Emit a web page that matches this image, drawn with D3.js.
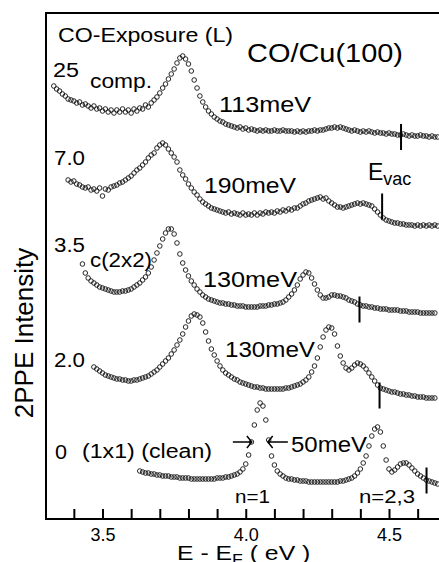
<!DOCTYPE html>
<html><head><meta charset="utf-8">
<script src="https://cdn.jsdelivr.net/npm/d3@7"></script>
<style>
body{margin:0;background:#fff}
svg{display:block}
text{font-family:"Liberation Sans",Arial,Helvetica,sans-serif;fill:#000}
</style>
</head><body>
<svg id="chart" width="439" height="562"></svg>
<script>
// ---- data ----
const exposures = ["25", "7.0", "3.5", "2.0", "0"];
const startEnergy = [3.33, 3.38, 3.43, 3.47, 3.63];   // eV, first sample of each scan
const energyStep = 0.01;                               // eV per sample
const stackOffset = [382, 294, 206, 121, 34];          // vertical offset (arb. units)

const int25 = [51,48,46,43,41,38,37,36,34,35, 32,33,31,29,31,28,29,26,28,25,
  27,24,27,25,28,25,27,24,28,26, 29,28,32,30,34,37,40,44,49,53,
  58,63,68,74,79,81,78,73,66,57, 49,41,35,30,26,23,20,18,16,15,
  13,12,11,10,9,10,8,9,7,8, 7,6,7,6,7,6,6,7,6,6,
  7,6,6,6,5,6,5,6,5,6, 6,7,6,7,7,8,9,9,10,9,
  10,9,8,7,6,7,6,5,6,5, 6,5,4,5,4,4,3,4,3,3,
  2,2,3,2,1,2,1,1,2,1, 1,0,1,0,0];
const int70 = [45,43,44,41,40,38,37,38,35,36, 34,37,29,36,35,38,39,40,42,43,
  45,47,49,52,55,57,60,63,67,70, 72,77,80,82,80,76,72,68,63,55,
  50,46,41,37,33,30,26,23,21,19, 17,16,15,14,13,12,13,11,12,11,
  10,12,10,11,10,12,10,12,11,13, 12,13,12,14,13,15,14,16,15,17,
  17,19,21,22,24,25,26,27,28,26, 27,24,22,20,18,18,17,18,19,20,
  21,22,21,22,21,20,19,16,13,10, 7,5,4,3,2,2,1,1,0,0,
  0,-1,0,-1,0,-1,0,-1,0,-1];
const int35 = [49,40,35,32,30,28,26,25,24,23, 22,21,21,21,22,22,23,24,26,28,
  30,33,36,40,46,53,60,67,74,80, 84,84,79,70,59,50,43,37,32,28,
  24,21,18,16,14,13,12,11,10,10, 9,9,8,8,7,7,7,6,6,6,
  6,6,7,7,7,8,8,9,9,10, 11,13,16,19,23,28,34,38,41,40,
  35,29,23,18,15,15,16,18,18,17, 17,16,15,13,12,11,9,8,7,7,
  6,6,5,5,4,4,4,3,3,3, 3,2,2,2,1,1,1,1,0,0,
  0,0,0,0];
const int20 = [31,29,27,25,23,22,21,20,19,19, 18,18,17,17,18,18,19,20,21,22,
  24,26,28,31,34,37,40,44,48,53, 58,64,71,77,82,84,83,81,75,66,
  57,49,43,37,32,28,25,23,21,19, 18,16,15,14,13,12,11,11,10,10,
  9,9,9,9,9,9,9,10,10,11, 12,13,14,16,18,21,26,32,40,51,
  61,68,71,70,64,52,42,35,30,28, 30,33,35,34,32,29,25,21,17,13,
  10,9,8,7,6,6,5,4,4,3, 3,2,2,1,1,1,0,0,0,0];
const int00 = [14,13,12,12,11,11,10,10,9,9, 9,8,8,8,7,7,7,7,6,6,
  6,6,6,6,6,6,6,7,7,7, 8,8,9,10,11,13,16,21,30,43,
  60,75,82,79,65,45,29,20,14,11, 9,7,6,6,5,5,4,4,4,3,
  3,3,3,3,3,3,3,3,3,3, 4,4,5,6,7,9,12,16,22,29,
  39,49,56,58,53,39,25,16,13,15, 18,21,22,22,20,17,14,11,9,7,
  5,4,3,2,1];
const intensities = [int25, int70, int35, int20, int00];

const evacEnergy = [4.542, 4.476, 4.397, 4.467, 4.631];
const evacLevel = [0, 18.5, 3.5, 2.5, 4.5];

const tickValues = [3.4,3.5,3.6,3.7,3.8,3.9,4.0,4.1,4.2,4.3,4.4,4.5,4.6];
const tickLabels = ["3.5","4.0","4.5"];

// ---- scales ----
const svg = d3.select("#chart");
const x = d3.scaleLinear().domain([3.5, 4.5]).range([102.5, 389]);
const y = d3.scaleLinear().domain([0, 506]).range([519, 13]);
const eMin = x.invert(46), eMax = x.invert(439);

// ---- frame ----
const frame = svg.append("g").attr("stroke","#000").attr("stroke-width",2).attr("fill","none");
frame.append("line").attr("x1",x(eMin)).attr("x2",x(eMin)).attr("y1",y(506)).attr("y2",y(0));
frame.append("line").attr("x1",x(eMin)-1).attr("x2",x(eMax)).attr("y1",y(506)).attr("y2",y(506));
frame.append("line").attr("x1",x(eMin)-1).attr("x2",x(eMax)).attr("y1",y(0)).attr("y2",y(0));

const axis = d3.axisBottom(x).tickValues(tickValues).tickSize(-10).tickPadding(9)
  .tickFormat(d => tickLabels.includes(d.toFixed(1)) ? d.toFixed(1) : "");
const ax = svg.append("g").attr("transform",`translate(0,${y(0)})`).call(axis);
ax.select(".domain").remove();
ax.selectAll(".tick line").attr("stroke","#000").attr("stroke-width",2);
ax.selectAll(".tick text").attr("font-size",18).attr("font-family","Liberation Sans, Arial, sans-serif").attr("fill","#000");

// ---- data points ----
intensities.forEach((arr, s) => {
  const pts = arr.map((v, i) => ({e: startEnergy[s] + i * energyStep, v: v + stackOffset[s]}));
  svg.append("g").selectAll("circle").data(pts).join("circle")
    .attr("cx", d => x(d.e)).attr("cy", d => y(d.v)).attr("r", 2.3)
    .attr("fill", "none").attr("stroke", "#111").attr("stroke-width", 0.9);
  const lv = stackOffset[s] + evacLevel[s];
  svg.append("line").attr("x1", x(evacEnergy[s])).attr("x2", x(evacEnergy[s]))
    .attr("y1", y(lv + 13)).attr("y2", y(lv - 13)).attr("stroke","#000").attr("stroke-width",2);
});

// ---- text ----
function label(str, px, py, size, len) {
  const t = svg.append("text").attr("x", px).attr("y", py).attr("font-size", size).text(str);
  if (len) t.attr("textLength", len).attr("lengthAdjust", "spacingAndGlyphs");
  return t;
}
label("CO-Exposure (L)", 58, 42, 19.5, 175);
label("CO/Cu(100)", 247, 62, 26, 156);
label("25", 53, 77, 20, 26);
label("comp.", 90, 88, 20, 62);
label("113meV", 219, 112, 22, 92);
label("7.0", 54, 165, 20, 31);
label("190meV", 204, 193, 22, 92);
label("3.5", 54, 252, 19.5, 31);
label("c(2x2)", 90, 267, 20, 62);
label("130meV", 203, 287, 22, 94);
label("2.0", 54, 367, 20, 31);
label("130meV", 225, 357, 22, 90);
label("0", 55, 459, 20, 12);
label("(1x1) (clean)", 82, 458, 20, 130);
label("50meV", 291, 452, 22, 76);
label("n=1", 235, 503, 18, 35);
label("n=2,3", 359, 503, 18, 56);

const ev = svg.append("text").attr("x", 368).attr("y", 180).attr("font-size", 23);
ev.append("tspan").text("E");
ev.append("tspan").attr("font-size", 18).attr("dy", 5).text("vac");

const xt = svg.append("text").attr("transform", "translate(177,560) scale(1.18,1)").attr("font-size", 21);
xt.append("tspan").text("E - E");
xt.append("tspan").attr("font-size", 15).attr("dy", 4).text("F");
xt.append("tspan").attr("dy", -4).text(" ( eV )");

svg.append("text").attr("transform", "translate(33,333) rotate(-90)")
  .attr("text-anchor", "middle").attr("font-size", 26).text("2PPE Intensity");

// FWHM arrows for n=1
const arrowV = 77;
const ar = svg.append("g").attr("stroke","#000").attr("stroke-width",1.5).attr("fill","none");
ar.append("path").attr("d", `M${x(3.955)},${y(arrowV)}H${x(4.021)}M${x(4.004)},${y(arrowV)-6}L${x(4.021)},${y(arrowV)}L${x(4.004)},${y(arrowV)+6}`);
ar.append("path").attr("d", `M${x(4.147)},${y(arrowV)}H${x(4.077)}M${x(4.094)},${y(arrowV)-6}L${x(4.077)},${y(arrowV)}L${x(4.094)},${y(arrowV)+6}`);
</script>
</body></html>
